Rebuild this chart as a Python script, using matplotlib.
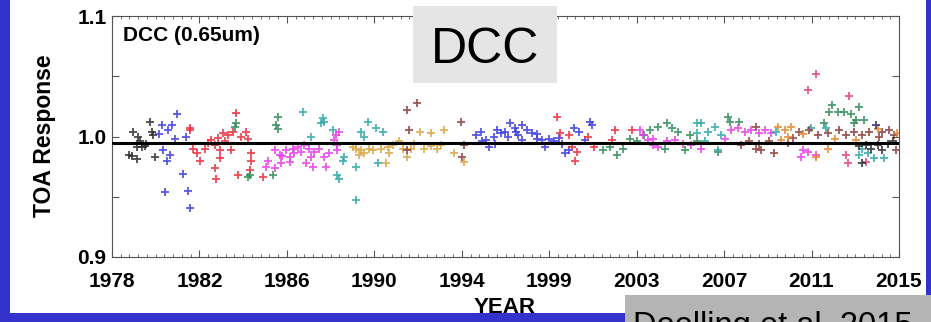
import matplotlib.pyplot as plt
from matplotlib.patches import Rectangle
import numpy as np

plt.rcParams['font.family'] = ['Liberation Sans', 'DejaVu Sans']

# tick layout (IDL style: 9 equal intervals, labels rounded)
x_ticks = np.linspace(1978, 2015, 10)
x_labels = ["1978", "1982", "1986", "1990", "1994", "1999", "2003", "2007", "2011", "2015"]
y_ticks = [0.9, 1.0, 1.1]
y_labels = ["0.9", "1.0", "1.1"]
ref_level = 0.995

# series, one colour per satellite record
black_yr = [1978.8, 1978.93, 1979.0, 1979.16, 1979.16, 1979.3, 1979.4, 1979.55, 1979.79, 1979.87, 1979.94, 1980.02, 1979.2, 1979.6]
black_val = [0.985, 0.984, 1.004, 0.9915, 0.981, 0.996, 0.991, 0.992, 1.012, 1.004, 1.001, 0.983, 1.0, 0.994]

blue1_yr = [1980.33, 1980.8, 1980.64, 1980.96, 1981.04, 1981.5, 1980.41, 1980.73, 1980.57, 1981.35, 1980.49, 1981.58, 1981.67, 1980.2]
blue1_val = [1.0095, 1.0095, 1.005, 0.998, 1.019, 1.0, 0.989, 0.985, 0.980, 0.969, 0.954, 0.955, 0.941, 1.002]

red1_yr = [1981.67, 1981.67, 1981.82, 1981.98, 1982.14, 1982.37, 1982.66, 1982.82, 1983.2, 1983.45, 1983.68, 1983.84, 1984.07, 1984.31,
           1984.39, 1983.06, 1983.6, 1983.06, 1984.54, 1984.54, 1982.82, 1982.9, 1983.92, 1984.47, 1985.1, 1982.5, 1983.0, 1983.3]
red1_val = [1.005, 1.007, 0.990, 0.986, 0.980, 0.990, 0.997, 0.993, 1.0026, 1.001, 1.004, 1.0197, 1.0, 1.004,
            0.998, 0.989, 0.989, 0.982, 0.986, 0.980, 0.974, 0.965, 0.968, 0.972, 0.966, 0.995, 0.999, 0.996]

green1_yr = [1983.76, 1983.84, 1984.39, 1984.47, 1985.57, 1985.72, 1985.8, 1985.8]
green1_val = [1.008, 1.011, 0.966, 0.968, 0.968, 1.0095, 1.006, 1.016]

magenta1_yr = [1985.25, 1985.33, 1985.64, 1985.64, 1985.88, 1985.95, 1986.19, 1986.35, 1986.35, 1986.58, 1986.74, 1986.9, 1987.05, 1987.13, 1987.27,
               1987.35, 1987.43, 1987.5, 1987.74, 1987.98, 1988.06, 1988.21, 1988.45, 1988.53, 1988.6, 1988.6, 1988.69, 1986.0, 1986.5]
magenta1_val = [0.975, 0.980, 0.989, 0.974, 0.985, 0.978, 0.989, 0.983, 0.979, 0.986, 0.9915, 0.9874, 0.993, 0.978, 0.990,
                0.983, 0.975, 0.9874, 0.990, 0.983, 0.975, 0.986, 0.997, 1.001, 0.993, 0.989, 1.004, 0.984, 0.990]

teal1_yr = [1987.0, 1987.35, 1987.82, 1987.9, 1987.98, 1988.37, 1988.6, 1988.69, 1988.84, 1988.92, 1989.47, 1989.47, 1989.7, 1989.86, 1990.02, 1990.4, 1990.49, 1990.72]
teal1_val = [1.0206, 1.0, 1.011, 1.015, 1.0123, 1.005, 0.968, 0.965, 0.980, 0.983, 0.975, 0.947, 1.004, 1.0, 1.012, 1.007, 0.978, 1.004]

gold_yr = [1989.31, 1989.47, 1989.62, 1989.7, 1989.86, 1990.09, 1990.25, 1990.64, 1990.88, 1990.96, 1991.19, 1991.5, 1991.66, 1991.88, 1992.04,
           1992.5, 1992.67, 1992.98, 1993.29, 1993.45, 1993.6, 1994.07, 1994.55, 1991.0, 1992.2, 1993.0]
gold_val = [0.9915, 0.990, 0.985, 0.989, 0.986, 0.990, 0.989, 0.990, 0.978, 0.9915, 0.993, 0.996, 0.990, 0.983, 0.990,
            1.004, 0.990, 1.0026, 0.990, 0.993, 1.005, 0.986, 0.979, 0.986, 0.994, 0.992]

brown1_yr = [1991.88, 1991.88, 1991.96, 1992.35, 1994.39, 1994.47, 1994.55]
brown1_val = [1.022, 0.989, 1.005, 1.0275, 1.0123, 0.983, 0.993]

blue2_yr = [1995.09, 1995.33, 1995.41, 1995.56, 1995.72, 1995.96, 1996.11, 1996.27, 1996.49, 1996.64, 1996.72, 1996.96, 1997.11, 1997.27, 1997.27, 1997.51, 1997.74,
            1997.98, 1998.21, 1998.37, 1998.53, 1998.76, 1999.15, 1999.31, 1999.47, 1999.7, 1999.94, 2000.25, 2000.48, 2000.56, 1996.0, 1997.0, 1998.0, 1999.0]
blue2_val = [1.001, 1.004, 0.996, 0.997, 0.9915, 1.0, 1.005, 1.0026, 1.004, 1.0, 1.011, 1.007, 1.001, 1.0095, 0.997, 1.005, 1.0026,
             0.998, 0.997, 0.9915, 0.998, 0.996, 0.994, 0.986, 0.989, 1.007, 1.004, 0.997, 1.0123, 1.0095, 0.994, 1.004, 1.002, 0.999]

red2_yr = [1998.92, 1999.07, 1999.47, 1999.62, 1999.78, 1999.86, 2000.4, 2000.64, 2001.49, 2001.65, 2002.43]
red2_val = [1.016, 1.0026, 1.001, 0.9915, 0.980, 0.9874, 1.0, 0.9915, 0.997, 1.005, 1.005]

green2_yr = [2001.1, 2001.41, 2001.72, 2002.03, 2002.35, 2002.66, 2003.29, 2003.68, 2004.0, 2004.07, 2004.31, 2004.62, 2004.94, 2005.17,
             2006.49, 2006.96, 2007.04, 2007.5, 2003.0, 2005.5]
green2_val = [0.989, 0.9915, 0.985, 0.990, 0.998, 0.996, 1.005, 1.008, 0.990, 1.011, 1.007, 1.004, 0.989, 1.001,
              0.9874, 1.016, 1.0123, 1.0123, 1.001, 0.996]

magenta2_yr = [2002.82, 2002.97, 2003.21, 2003.44, 2003.44, 2003.68, 2004.07, 2004.46, 2004.85, 2005.7, 2007.12, 2007.43, 2007.74, 2008.05,
               2008.44, 2008.68, 2010.38, 2010.47, 2010.7, 2011.1, 2005.2, 2006.8, 2009.0]
magenta2_val = [1.005, 1.001, 0.997, 0.998, 0.993, 0.9915, 0.996, 0.997, 0.994, 0.990, 1.005, 1.007, 1.004, 1.005,
                1.0026, 1.005, 0.983, 0.989, 0.9874, 0.985, 0.993, 0.998, 1.003]

teal2_yr = [2005.48, 2005.48, 2005.7, 2005.86, 2006.02, 2006.33, 2006.49, 2006.64, 2009.22, 2010.87, 2011.57, 2013.13, 2013.28, 2013.52, 2013.83, 2014.3]
teal2_val = [1.011, 1.0026, 1.011, 0.996, 1.004, 1.008, 0.989, 1.001, 1.004, 1.007, 1.007, 0.985, 0.990, 0.986, 0.982, 0.982]

brown2_yr = [2007.58, 2007.97, 2008.28, 2008.28, 2008.44, 2008.52, 2008.91, 2009.14, 2010.3, 2010.77, 2011.17, 2011.64, 2012.19, 2012.5,
             2012.89, 2013.28, 2013.59, 2014.07, 2014.22, 2014.54, 2014.77, 2014.85, 2009.8, 2010.0]
brown2_val = [0.993, 0.996, 0.990, 1.008, 0.994, 0.989, 0.996, 0.986, 1.004, 1.005, 1.001, 1.0026, 1.005, 1.001,
              1.004, 1.001, 1.004, 1.0, 1.004, 1.005, 1.001, 0.989, 0.995, 0.999]

orange_yr = [2009.31, 2009.46, 2009.62, 2009.78, 2009.93, 2011.1, 2011.64, 2012.0, 2013.0, 2014.0, 2014.9, 2010.5]
orange_val = [1.008, 0.997, 1.005, 1.0, 1.008, 0.983, 0.990, 0.998, 0.997, 1.006, 1.003, 1.002]

pink_yr = [2010.7, 2011.1, 2012.66, 2012.5, 2012.58, 2013.44]
pink_val = [1.039, 1.052, 1.034, 0.985, 0.978, 0.979]

green3_yr = [2011.48, 2011.72, 2011.87, 2012.11, 2012.42, 2012.74, 2012.89, 2012.97, 2013.13, 2013.36]
green3_val = [1.011, 1.020, 1.026, 1.0206, 1.0206, 1.019, 1.011, 1.0137, 1.0247, 1.0137]

black2_yr = [2013.28, 2013.44, 2013.68, 2013.99, 2014.46, 2013.1, 2014.2, 2014.7]
black2_val = [0.978, 0.993, 0.990, 0.993, 0.994, 0.992, 0.989, 0.996]

navy_yr = [2013.92]
navy_val = [1.0095]

series = [
    (black_yr, black_val, "#2a2a2a"),
    (blue1_yr, blue1_val, "#3a3ae0"),
    (red1_yr, red1_val, "#ee2a3a"),
    (green1_yr, green1_val, "#2e8b57"),
    (magenta1_yr, magenta1_val, "#e83ce8"),
    (teal1_yr, teal1_val, "#2fa8a8"),
    (gold_yr, gold_val, "#d9a441"),
    (brown1_yr, brown1_val, "#8c3a3a"),
    (blue2_yr, blue2_val, "#3a3ae0"),
    (red2_yr, red2_val, "#ee2a3a"),
    (green2_yr, green2_val, "#2e8b57"),
    (magenta2_yr, magenta2_val, "#e83ce8"),
    (teal2_yr, teal2_val, "#2fa8a8"),
    (brown2_yr, brown2_val, "#8c3a3a"),
    (orange_yr, orange_val, "#e6862a"),
    (pink_yr, pink_val, "#e0407a"),
    (green3_yr, green3_val, "#2e8b57"),
    (black2_yr, black2_val, "#2a2a2a"),
    (navy_yr, navy_val, "#302070"),
]

W, H = 931, 322
fig = plt.figure(figsize=(W / 100, H / 100), dpi=100, facecolor="#3333cc")

# white slide area over the blue background
fig.patches.append(Rectangle((10 / W, 1 - 313 / H), 916 / W, 313 / H,
                             transform=fig.transFigure, facecolor="white", edgecolor="none", zorder=-1))

ax = fig.add_axes([112 / W, 1 - 257 / H, 787 / W, 241 / H])
ax.set_zorder(1)

for yr, val, col in series:
    ax.plot(yr, val, linestyle="none", marker="+", ms=6, mew=1.3, color=col, alpha=0.85)

ax.axhline(ref_level, color="black", lw=2.2, zorder=5)

ax.set_xlim(1978, 2015)
ax.set_ylim(0.9, 1.1)
ax.set_xticks(x_ticks)
ax.set_xticklabels(x_labels)
ax.set_xticks(np.linspace(1978, 2015, 91), minor=True)
ax.set_yticks(y_ticks)
ax.set_yticklabels(y_labels)
ax.set_yticks([0.95, 1.05], minor=True)

ax.tick_params(which="both", direction="in", top=True, right=True, color="#555555")
ax.tick_params(which="major", length=5, width=0.8, labelsize=15, pad=11)
ax.tick_params(axis="y", which="major", pad=4)
ax.tick_params(axis="x", which="minor", length=2, width=0.6)
ax.tick_params(axis="y", which="minor", length=5, width=0.8)
for lab in ax.get_xticklabels() + ax.get_yticklabels():
    lab.set_fontweight("bold")
for sp in ax.spines.values():
    sp.set_color("#555555")
    sp.set_linewidth(0.8)

ax.text(-0.0864, 0.502, "TOA Response", transform=ax.transAxes, rotation=90,
        ha="center", va="center", fontsize=16.5, fontweight="bold")
fig.text(505 / W, 1 - 313 / H, "YEAR", ha="center", va="baseline", fontsize=16, fontweight="bold")
ax.text(0.014, 0.896, "DCC (0.65um)", transform=ax.transAxes, ha="left", va="baseline",
        fontsize=15, fontweight="bold")

# title box, drawn over the top spine
fig.patches.append(Rectangle((413 / W, 1 - 83 / H), 144 / W, 77 / H, transform=fig.transFigure,
                             facecolor="#e5e5e5", edgecolor="none", zorder=3))
fig.text(485 / W, 1 - 63 / H, "DCC", ha="center", va="baseline", fontsize=36, zorder=4)

# citation box, cut off by the lower edge
fig.patches.append(Rectangle((625 / W, 0), 306 / W, 27 / H, transform=fig.transFigure,
                             facecolor="#b4b4b4", edgecolor="none", zorder=3))
fig.text(633 / W, 1 - 335 / H, "Doelling et al. 2015", ha="left", va="baseline", fontsize=23.5, zorder=4)

fig.savefig("out.png", dpi=100, facecolor=fig.get_facecolor())
